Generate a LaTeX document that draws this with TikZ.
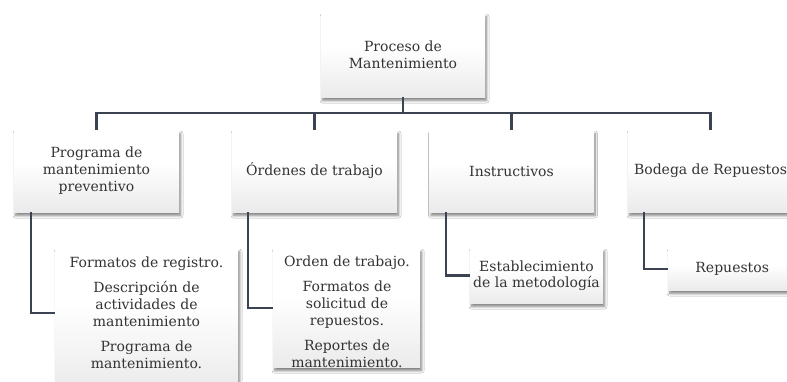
\documentclass[tikz,border=0pt]{standalone}
\usepackage{fontspec}
\setmainfont{DejaVu Serif}
\usetikzlibrary{shadows.blur}
\definecolor{txtc}{HTML}{333333}
\definecolor{lnc}{HTML}{3B4252}
\pgfdeclareverticalshading{boxshade}{100bp}{color(0bp)=(black!17); color(25bp)=(black!8); color(55bp)=(white); color(100bp)=(white)}
\begin{document}
\begin{tikzpicture}[x=1pt,y=-1pt,
  box/.style={rectangle, inner sep=0pt, shading=boxshade, text=txtc, align=center,
    font=\fontsize{14}{17}\selectfont,
    blur shadow={shadow xshift=1.5pt, shadow yshift=-3.5pt, shadow blur radius=2.5pt, shadow blur steps=8, shadow opacity=50}},
  txtnode/.style={inner sep=0pt, text=txtc, align=center, font=\fontsize{14}{17}\selectfont},
  conn/.style={draw=lnc, line width=2.2pt}]
\path[use as bounding box, fill=white] (0,0) rectangle (787,381);
\clip (0,0) rectangle (787,381);
% top
\node[box, minimum width=164pt, minimum height=84pt] (top) at (403,55) {Proceso de\\Mantenimiento};
% level 2
\node[box, minimum width=165pt, minimum height=82pt] (p1) at (96.5,171) {Programa de\\mantenimiento\\preventivo};
\node[box, minimum width=165pt, minimum height=82pt] (p2) at (314.5,171) {Órdenes de trabajo};
\node[box, minimum width=164pt, minimum height=82pt] (p3) at (511.5,171) {Instructivos};
\node[box, minimum width=165pt, minimum height=82pt] (p4) at (710.5,171) {Bodega de Repuestos};
% level 3
\node[box, minimum width=183pt, minimum height=140pt, anchor=north west] (a) at (55,248) {};
\node[txtnode] (at) at (146.5,313) {Formatos de registro.\\[8pt]Descripción de\\actividades de\\mantenimiento\\[8pt]Programa de\\mantenimiento.};
\node[box, minimum width=147pt, minimum height=119pt, anchor=north west] (b) at (273,248) {};
\node[txtnode] (bt) at (347,312) {Orden de trabajo.\\[8pt]Formatos de\\solicitud de\\repuestos.\\[8pt]Reportes de\\mantenimiento.};
\node[box, minimum width=133pt, minimum height=55pt, font=\fontsize{14}{16}\selectfont] (c) at (536.5,275.5) {Establecimiento\\de la metodología};
\node[box, minimum width=128pt, minimum height=42pt, anchor=west] (d) at (668,269) {Repuestos};
% connectors
\coordinate (bus) at (403,113);
\draw[conn] (top.south) -- (top.south |- bus);
\draw[conn] (p1.north) |- (p4.north |- bus) -- (p4.north);
\draw[conn] (p2.north) -- (p2.north |- bus);
\draw[conn] (p3.north) -- (p3.north |- bus);
\draw[conn] ([xshift=17pt]p1.south west) |- (a.west |- at.west);
\draw[conn] ([xshift=16pt]p2.south west) |- (b.west);
\draw[conn] ([xshift=17pt]p3.south west) |- (c.west);
\draw[conn] ([xshift=16pt]p4.south west) |- (d.west);
\end{tikzpicture}
\end{document}
